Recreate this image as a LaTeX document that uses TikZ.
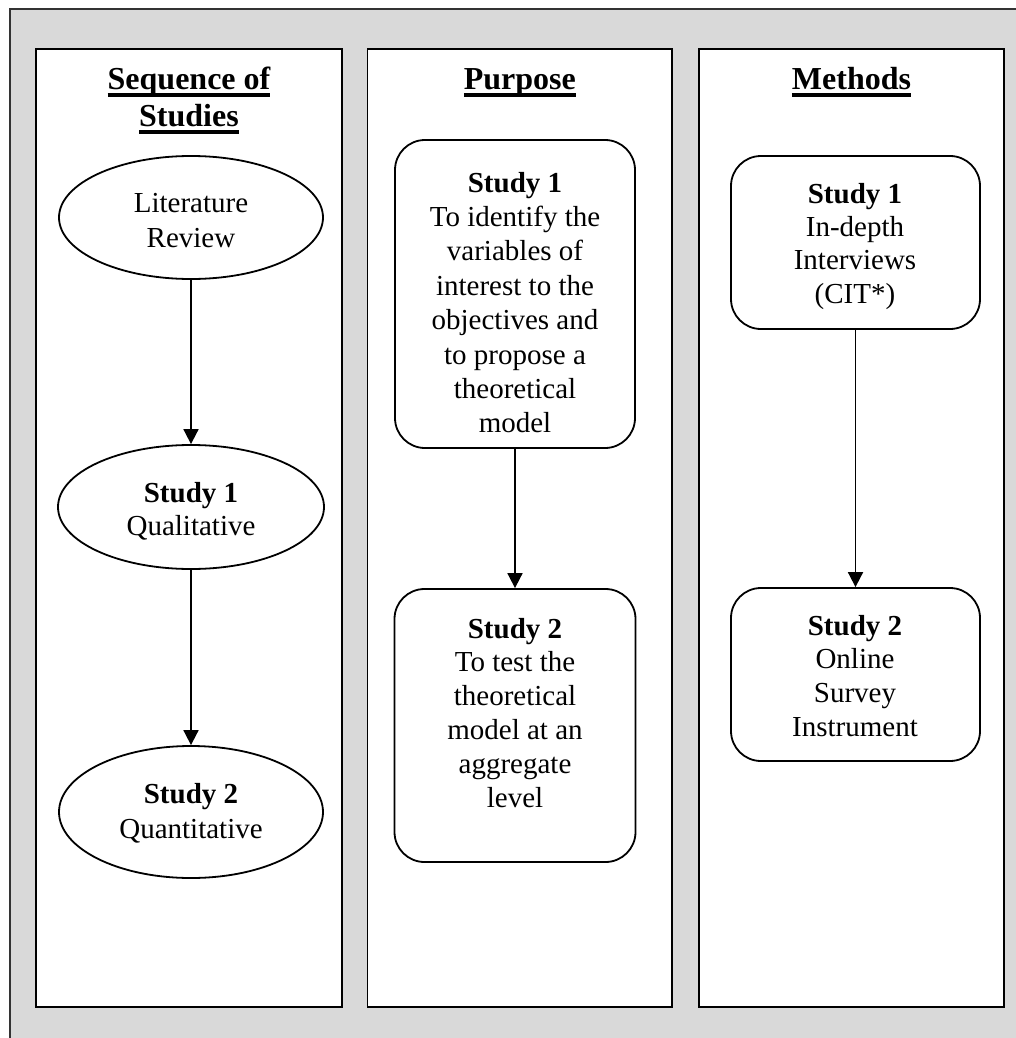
\documentclass[tikz,border=0pt]{standalone}
\usepackage{fontspec}
\setmainfont{Liberation Serif}
\usetikzlibrary{arrows.meta,shapes.geometric}
\definecolor{framefill}{RGB}{217,217,217}
% thick underline for the column headings
\newcommand\headul[1]{\setbox0=\hbox{#1}\rlap{\rule[-6.7pt]{\wd0}{3.3pt}}\box0}
% centred lines whose baseline is the first line
\newcommand\stack[1]{\begin{tabular}[t]{@{}c@{}}#1\end{tabular}}

\begin{document}
\begin{tikzpicture}[x=1pt,y=-1pt,
  panel/.style={rectangle,draw=black,line width=1.8pt,fill=white,inner sep=0pt},
  oval/.style={ellipse,draw=black,line width=1.8pt,fill=white,inner sep=0pt},
  rbox/.style={rectangle,rounded corners=30pt,draw=black,line width=1.8pt,fill=white,inner sep=0pt},
  txt/.style={inner sep=0pt,anchor=base},
  head/.style={inner sep=0pt,anchor=base,font=\fontsize{32}{37}\selectfont\bfseries},
  flow/.style={-{Triangle[width=15pt,length=15pt]},line width=1.8pt}
]
\useasboundingbox (0,0) rectangle (1016,1038);
\clip (0,0) rectangle (1016,1038);

% grey frame running off the right and bottom edges
\draw[fill=framefill,draw=black!80,line width=1.8pt] (10,9) rectangle (1040,1060);

% three columns
\node[panel,minimum width=306pt,minimum height=958pt] (seqpanel) at (189,528) {};
\node[panel,minimum width=304.5pt,minimum height=958pt] (purppanel) at (519.75,528) {};
\node[panel,minimum width=305pt,minimum height=958pt] (methpanel) at (851.5,528) {};

% headings
\node[head] (seqhead) at (189,90) {\stack{\headul{Sequence of}\\\headul{Studies}}};
\node[head] (purphead) at (519.75,90) {\headul{Purpose}};
\node[head] (methhead) at (851.5,90) {\headul{Methods}};

% sequence of studies
\node[oval,minimum width=264pt,minimum height=123pt] (lit) at (191,217.5) {};
\node[oval,minimum width=266pt,minimum height=124pt] (seqone) at (191,507) {};
\node[oval,minimum width=264pt,minimum height=132pt] (seqtwo) at (191,812) {};
\draw[flow] (lit) -- (seqone);
\draw[flow] (seqone) -- (seqtwo);

\node[txt,font=\fontsize{29}{35}\selectfont] (littext) at (191,212) {\stack{Literature\\Review}};
\node[txt,font=\fontsize{29}{33}\selectfont] (seqonetext) at (191,502) {\stack{\textbf{Study 1}\\Qualitative}};
\node[txt,font=\fontsize{29}{35}\selectfont] (seqtwotext) at (191,803) {\stack{\textbf{Study 2}\\Quantitative}};

% purpose
\node[rbox,minimum width=240pt,minimum height=308pt] (purpone) at (515,294) {};
\node[rbox,minimum width=241pt,minimum height=273pt] (purptwo) at (515,725.5) {};
\draw[flow] (purpone) -- (purptwo);

\node[txt,font=\fontsize{29}{34.4}\selectfont] (purponetext) at (515,192)
  {\stack{\textbf{Study 1}\\To identify the\\variables of\\interest to the\\objectives and\\to propose a\\theoretical\\model}};
\node[txt,font=\fontsize{29}{33.8}\selectfont] (purptwotext) at (515,638)
  {\stack{\textbf{Study 2}\\To test the\\theoretical\\model at an\\aggregate\\level}};

% methods
\node[rbox,minimum width=249pt,minimum height=173pt] (methone) at (855.5,242.5) {};
\node[rbox,minimum width=249pt,minimum height=173pt] (methtwo) at (855.5,674.5) {};
\draw[flow] (methone) -- (methtwo);

\node[txt,font=\fontsize{29}{33.4}\selectfont] (methonetext) at (855,203)
  {\stack{\textbf{Study 1}\\In-depth\\Interviews\\(CIT*)}};
\node[txt,font=\fontsize{29}{33.7}\selectfont] (methtwotext) at (855,635)
  {\stack{\textbf{Study 2}\\Online\\Survey\\Instrument}};
\end{tikzpicture}
\end{document}
